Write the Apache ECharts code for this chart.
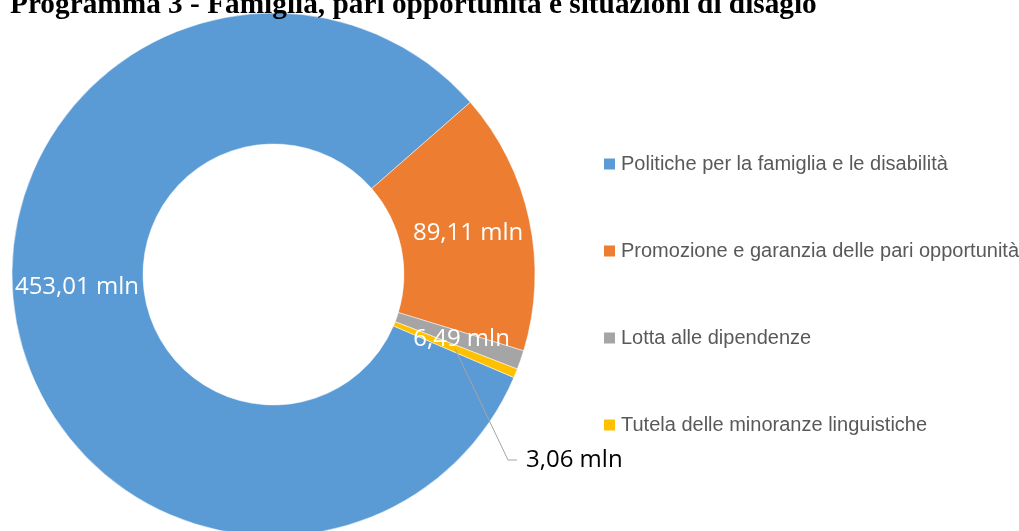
<!DOCTYPE html>
<html>
<head>
<meta charset="utf-8">
<title>Programma 3</title>
<script src="https://cdn.jsdelivr.net/npm/echarts@6/dist/echarts.min.js"></script>
<style>
  html, body { margin: 0; padding: 0; background: #fff; }
  #main { width: 1019px; height: 531px; }
</style>
</head>
<body>
<div id="main"></div>
<script>
// dati del grafico
var categorie = [
    'Politiche per la famiglia e le disabilità',
    'Promozione e garanzia delle pari opportunità',
    'Lotta alle dipendenze',
    'Tutela delle minoranze linguistiche'
];
var valori = [453.01, 89.11, 6.49, 3.06];
var colori = ['#5B9BD5', '#ED7D31', '#A5A5A5', '#FFC000'];
var etichettaFuori = 3; // indice della fetta con etichetta esterna

var centro = [273.5, 274.5];
var raggi = [130.5, 261.5];
var angoloInizio = -23.2;

var myChart = echarts.init(document.getElementById('main'));

function fmt(p) {
    return p.value.toFixed(2).replace('.', ',') + ' mln';
}

// punto a metà anello sull'angolo medio di una fetta
function puntoMedio(i) {
    var tot = 0, prima = 0;
    for (var k = 0; k < valori.length; k++) {
        tot += valori[k];
        if (k < i) prima += valori[k];
    }
    var a = (angoloInizio - (prima + valori[i] / 2) / tot * 360) * Math.PI / 180;
    var r = (raggi[0] + raggi[1]) / 2;
    return [centro[0] + r * Math.cos(a), centro[1] - r * Math.sin(a)];
}

var datiAnello = categorie.map(function (nome, i) {
    return {
        name: nome,
        value: valori[i],
        itemStyle: { color: colori[i] },
        label: { show: i !== etichettaFuori }
    };
});

// serie trasparente sopra l'anello, solo per l'etichetta esterna e la sua linea
var datiGuida = categorie.map(function (nome, i) {
    return {
        name: nome,
        value: valori[i],
        label: { show: i === etichettaFuori },
        labelLine: { show: i === etichettaFuori }
    };
});

option = {
    title: {
        text: 'Programma 3 - Famiglia, pari opportunità e situazioni di disagio',
        left: 10,
        top: -9,
        padding: 0,
        textStyle: {
            fontFamily: 'Liberation Serif',
            fontWeight: 'bold',
            fontSize: 29.3,
            color: '#000'
        }
    },
    legend: {
        orient: 'vertical',
        left: 602,
        top: 153,
        padding: 0,
        itemWidth: 13,
        itemHeight: 13,
        itemGap: 65,
        icon: 'rect',
        selectedMode: false,
        data: categorie.map(function (nome, i) {
            return { name: nome, itemStyle: { color: colori[i] } };
        }),
        textStyle: {
            fontFamily: 'Liberation Sans',
            fontSize: 20,
            lineHeight: 22,
            color: '#595959'
        }
    },
    series: [
        {
            name: 'Programma 3',
            type: 'pie',
            center: centro,
            radius: raggi,
            startAngle: angoloInizio,
            avoidLabelOverlap: false,
            silent: true,
            itemStyle: { borderColor: '#fff', borderWidth: 0.5 },
            label: {
                position: 'inside',
                formatter: fmt,
                color: '#fff',
                fontFamily: 'Open Sans',
                fontSize: 24
            },
            labelLine: { show: false },
            labelLayout: function (params) {
                if (params.dataIndex === 0) {
                    return { dy: -18 };
                }
            },
            data: datiAnello
        },
        {
            name: 'guida',
            type: 'pie',
            z: 3,
            center: centro,
            radius: raggi,
            startAngle: angoloInizio,
            avoidLabelOverlap: false,
            silent: true,
            itemStyle: { color: 'rgba(0,0,0,0)' },
            label: {
                position: 'outside',
                formatter: fmt,
                color: '#000',
                fontFamily: 'Open Sans',
                fontSize: 24
            },
            labelLine: {
                lineStyle: { color: '#A5A5A5', width: 1 }
            },
            labelLayout: function (params) {
                if (params.dataIndex === etichettaFuori) {
                    return {
                        x: 526, y: 460, align: 'left', verticalAlign: 'middle',
                        labelLinePoints: [puntoMedio(etichettaFuori), [508, 460], [517, 460]]
                    };
                }
            },
            data: datiGuida
        }
    ]
};

myChart.setOption(option);
window.onresize = myChart.resize;
</script>
</body>
</html>
